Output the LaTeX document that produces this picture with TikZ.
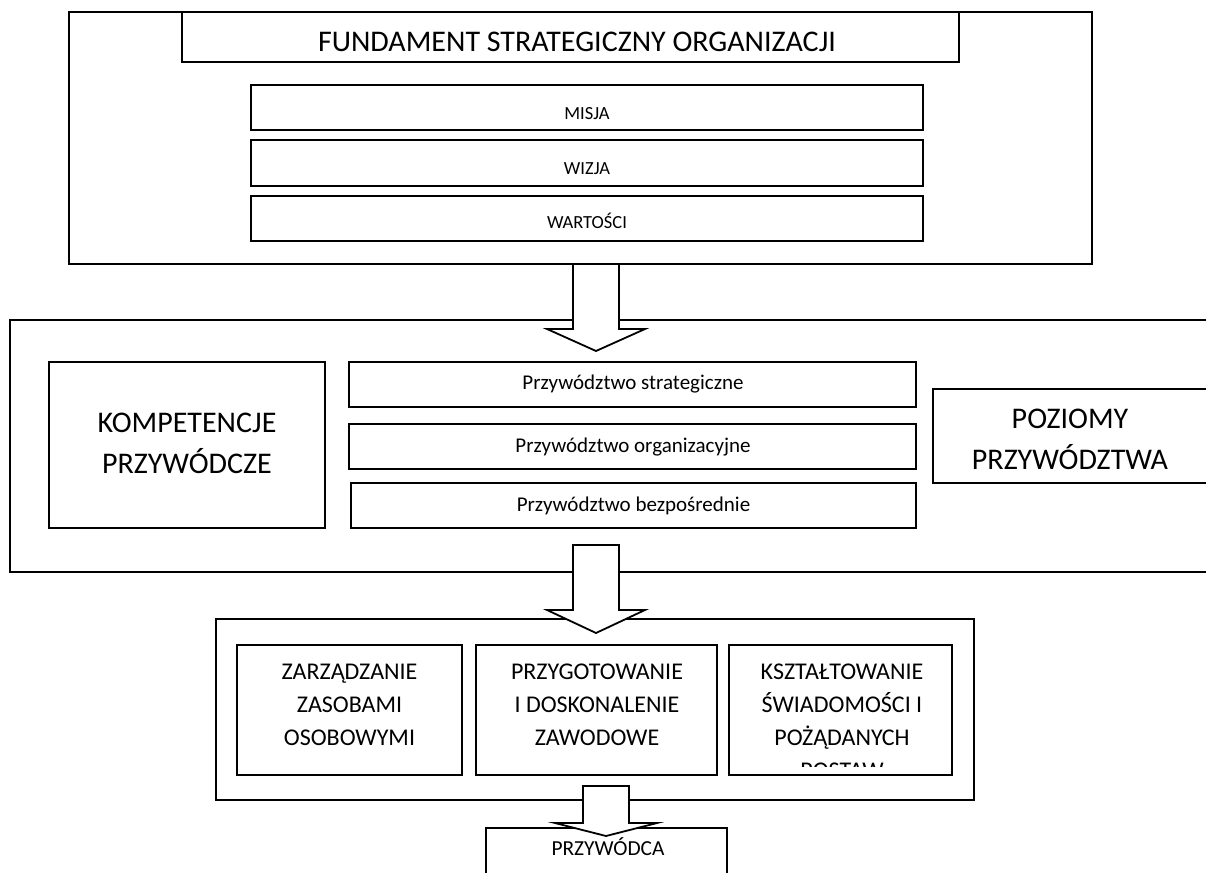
\documentclass[tikz,border=0pt]{standalone}
\usepackage{fontspec}
\setmainfont{Carlito}
\usetikzlibrary{calc}

% block arrow: #1 top centre, #2 tip, #3 shaft half-width, #4 head half-width, #5 head length
\newcommand{\blockarrow}[5]{%
  \draw[arrowbox] ($(#1)+(-#3,0)$) -- ($(#2)+(-#3,-#5)$) -- ($(#2)+(-#4,-#5)$)
    -- (#2) -- ($(#2)+(#4,-#5)$) -- ($(#2)+(#3,-#5)$) -- ($(#1)+(#3,0)$) -- cycle;}

\begin{document}
\begin{tikzpicture}[x=1pt,y=-1pt,
  boxframe/.style={draw=black, line width=1.8pt, fill=white, inner sep=0pt, outer sep=0pt},
  arrowbox/.style={draw=black, line width=1.8pt, fill=white, line join=miter},
  txt/.style={inner sep=0pt, anchor=base, text=black},
  txtblock/.style={inner sep=0pt, anchor=north, align=center, text=black},
  ftitle/.style={font=\fontsize{30}{36}\selectfont},
  fvalue/.style={font=\fontsize{18.5}{22}\selectfont},
  flevel/.style={font=\fontsize{21}{25}\selectfont},
  fbig/.style={font=\fontsize{30}{41}\selectfont},
  farea/.style={font=\fontsize{24}{33}\selectfont},
  fleader/.style={font=\fontsize{21.4}{25}\selectfont},
]
\useasboundingbox (0,0) rectangle (1206,872);
\clip (0,0) rectangle (1206,872);
\fill[white] (0,0) rectangle (1206,872);

% strategic foundation
\node[boxframe, minimum width=1023, minimum height=252] (fund) at (580.5,138) {};
\node[boxframe, minimum width=777, minimum height=50] (fundhead) at (570.5,37) {};
\node[txt, ftitle] (fundtext) at (577,51.5) {FUNDAMENT STRATEGICZNY ORGANIZACJI};
\node[boxframe, minimum width=672, minimum height=45] (misja) at (587,107.5) {};
\node[txt, fvalue] (misjat) at (587,119) {MISJA};
\node[boxframe, minimum width=672, minimum height=46] (wizja) at (587,163) {};
\node[txt, fvalue] (wizjat) at (587,174) {WIZJA};
\node[boxframe, minimum width=672, minimum height=45] (wart) at (587,218.5) {};
\node[txt, fvalue] (wartt) at (587,228) {WARTOŚCI};

% leadership levels
\node[boxframe, minimum width=1200, minimum height=252] (levels) at (610,446) {};
\node[boxframe, minimum width=276, minimum height=166] (komp) at (187,445) {};
\node[txtblock, fbig] (kompt) at (187,404) {\rule{0pt}{28pt}KOMPETENCJE\\PRZYWÓDCZE};
\node[boxframe, minimum width=567, minimum height=45] (strat) at (632.5,384.5) {};
\node[txt, flevel] (stratt) at (633,389.5) {Przywództwo strategiczne};
\node[boxframe, minimum width=567, minimum height=45] (org) at (632.5,446.5) {};
\node[txt, flevel] (orgt) at (633,452.5) {Przywództwo organizacyjne};
\node[boxframe, minimum width=565, minimum height=45] (bezp) at (633.5,505.5) {};
\node[txt, flevel] (bezpt) at (633.5,511.5) {Przywództwo bezpośrednie};
\node[boxframe, minimum width=275, minimum height=94] (poz) at (1070.5,436) {};
\node[txtblock, fbig] (pozt) at (1070,400) {\rule{0pt}{28pt}POZIOMY\\PRZYWÓDZTWA};

% areas of activity
\node[boxframe, minimum width=758, minimum height=181] (areas) at (595,709.5) {};
\node[boxframe, minimum width=225, minimum height=130] (zarz) at (349.5,710) {};
\node[txtblock, farea] (zarzt) at (349.5,655.5) {\rule{0pt}{24pt}ZARZĄDZANIE\\ZASOBAMI\\OSOBOWYMI};
\node[boxframe, minimum width=241, minimum height=130] (przyg) at (596.5,710) {};
\node[txtblock, farea] (przygt) at (597,655.5) {\rule{0pt}{24pt}PRZYGOTOWANIE\\I DOSKONALENIE\\ZAWODOWE};
\node[boxframe, minimum width=223, minimum height=130] (kszt) at (840.5,710) {};
\begin{scope}
  \clip (731,647) rectangle (950,766.5);
  \node[txtblock, farea] (ksztt) at (842,655.5) {\rule{0pt}{24pt}KSZTAŁTOWANIE\\ŚWIADOMOŚCI I\\POŻĄDANYCH\\POSTAW};
\end{scope}

% leader
\node[boxframe, minimum width=241, minimum height=90] (leader) at (606.5,873) {};
\node[txt, fleader] (leadert) at (608,855.5) {PRZYWÓDCA};

% block arrows between the levels
\coordinate (a1tip) at (596,351);
\coordinate (a1top) at (fund.south -| a1tip);
\blockarrow{a1top}{a1tip}{23}{49}{22}
\coordinate (a2tip) at (596,633);
\coordinate (a2top) at (596,545);
\blockarrow{a2top}{a2tip}{23}{49}{23}
\coordinate (a3tip) at (606,836);
\coordinate (a3top) at (606,786);
\blockarrow{a3top}{a3tip}{23}{51}{13}
\end{tikzpicture}
\end{document}
